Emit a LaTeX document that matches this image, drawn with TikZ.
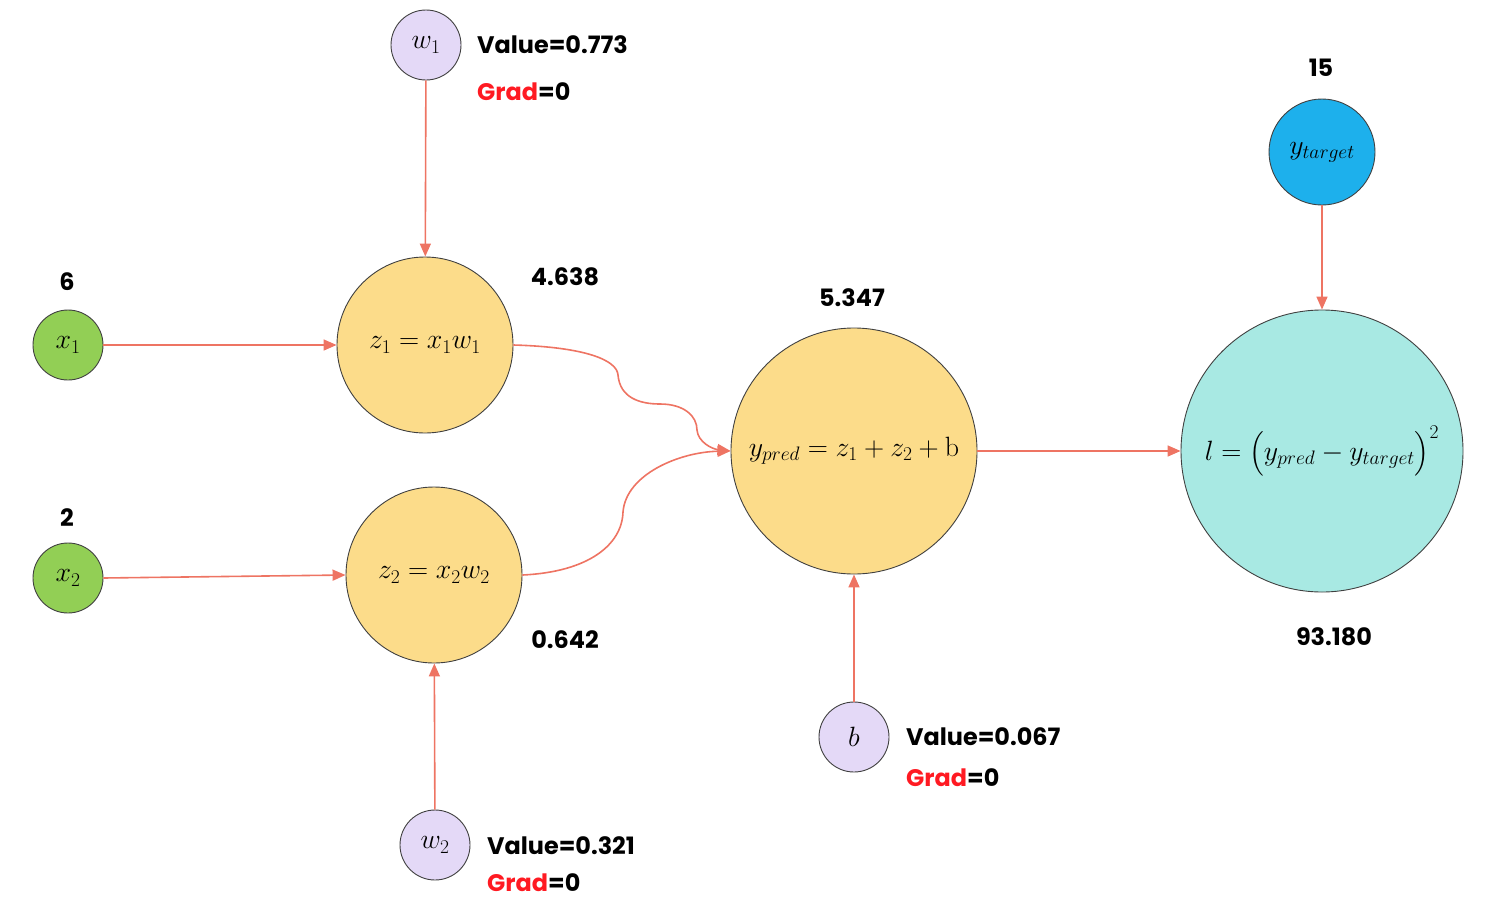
\documentclass[tikz,border=0pt]{standalone}
\usepackage{fix-cm}
\usepackage{amsmath}
\usepackage[no-math]{fontspec}
\setmainfont{Poppins}
\usetikzlibrary{arrows.meta}
\definecolor{arr}{HTML}{EE7463}
\definecolor{zfill}{HTML}{FCDC8A}
\definecolor{xfill}{HTML}{92CF55}
\definecolor{wfill}{HTML}{E4D9F7}
\definecolor{tfill}{HTML}{1DB0EC}
\definecolor{lfill}{HTML}{A8E9E3}
\definecolor{gradred}{HTML}{FF1A22}
\tikzset{
  nd/.style={circle,draw=black!75,line width=0.9bp,inner sep=0pt,font=\fontsize{28}{32}\selectfont},
  small/.style={nd,minimum size=70bp},
  zn/.style={nd,fill=zfill},
  lab/.style={font=\fontsize{24}{28}\selectfont\bfseries,inner sep=0pt},
  llab/.style={lab,anchor=west},
  con/.style={draw=arr,line width=1.6bp,-{Triangle[length=13bp,width=11bp]}},
}
\begin{document}
\begin{tikzpicture}[x=1bp,y=-1bp]
\useasboundingbox (0,0) rectangle (1496,902);
% nodes
\node[small,fill=wfill] (w1) at (426,45) {$w_1$};
\node[small,fill=xfill] (x1) at (68,345) {$x_1$};
\node[zn,minimum size=176bp] (z1) at (425,345) {$z_1=x_1w_1$};
\node[small,fill=xfill] (x2) at (68,578) {$x_2$};
\node[zn,minimum size=176bp] (z2) at (434,575) {$z_2=x_2w_2$};
\node[small,fill=wfill] (w2) at (435,845) {$w_2$};
\node[zn,minimum size=246bp] (yp) at (854,451) {$y_{pred}=z_1+z_2+\mathrm{b}$};
\node[small,fill=wfill] (b) at (854,737) {$b$};
\node[nd,fill=tfill,minimum size=106bp] (yt) at (1322,152) {$y_{target}$};
\node[nd,fill=lfill,minimum size=282bp] (l) at (1322,451) {$l=\bigl(y_{pred}-y_{target}\bigr)^2$};
% labels
\node[lab] (lx1) at (67,282) {6};
\node[lab] (lx2) at (67,518) {2};
\node[lab] (lz1) at (565,277) {4.638};
\node[lab] (lz2) at (565,640) {0.642};
\node[lab] (lyp) at (852,298) {5.347};
\node[lab] (lyt) at (1321,68) {15};
\node[lab] (ll) at (1334,637) {93.180};
\node[llab] (vw1) at (477,45) {Value=0.773};
\node[llab] (gw1) at (477,92) {\textcolor{gradred}{Grad}=0};
\node[llab] (vw2) at (487,846) {Value=0.321};
\node[llab] (gw2) at (487,883) {\textcolor{gradred}{Grad}=0};
\node[llab] (vb) at (906,737) {Value=0.067};
\node[llab] (gb) at (906,778) {\textcolor{gradred}{Grad}=0};
% connectors
\draw[con] (x1) -- (z1);
\draw[con] (x2.east) -- (z2.west);
\draw[con] (w1) -- (z1);
\draw[con] (w2) -- (z2);
\draw[con] (b) -- (yp);
\draw[con] (yp) -- (l);
\draw[con] (yt) -- (l);
\draw[con] (z1.east) .. controls (585,347) and (617,360) .. (618,375)
  .. controls (620,398) and (640,404) .. (660,404)
  .. controls (684,404) and (697,416) .. (697,430)
  .. controls (698,442) and (712,449) .. (yp.west);
\draw[con] (z2.east) .. controls (588,572) and (622,545) .. (623,512)
  .. controls (626,474) and (680,452) .. (yp.west);
\end{tikzpicture}
\end{document}
